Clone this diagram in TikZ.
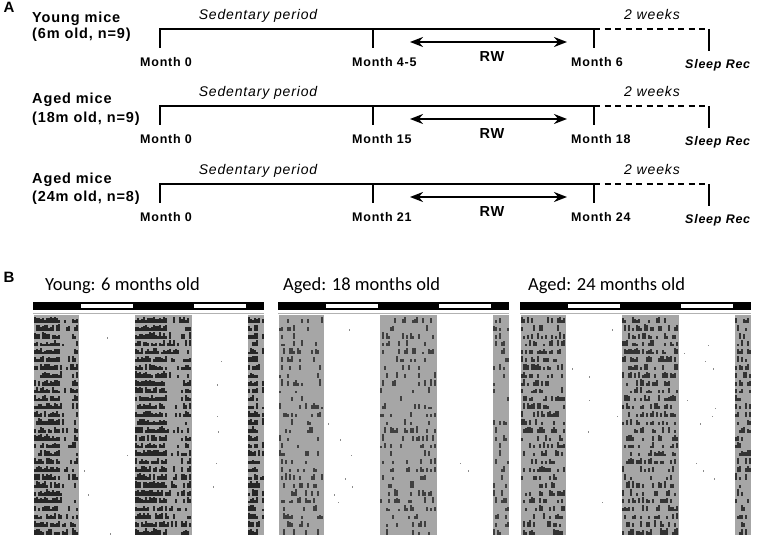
\documentclass[tikz,border=0pt]{standalone}
\usepackage{fontspec}
\setmainfont{Liberation Sans}
\newfontfamily\labfont[LetterSpace=6]{Liberation Sans}
\newfontfamily\ttlfont{Carlito}
\usetikzlibrary{arrows.meta}
\definecolor{actgray}{RGB}{166,166,166}

% light/dark bar, dark phases and activity marks of one actogram
\newcommand{\actogram}[2]{%
  \fill (0,302) rectangle (231,310);
  \fill[white] (48,304.3) rectangle (100,307.7);
  \fill[white] (161,304.3) rectangle (213,307.7);
  \draw[black!30, line width=0.6pt] (0,313) -- (231,313);
  \foreach \a/\b in {1/46,102/159,215/231}
    \fill[actgray] (\a,315) rectangle (\b,535);
  \foreach \row in {0,...,27} {
    \pgfmathsetmacro{\yb}{322.8+7.85*\row}
    \foreach \a/\b in {1/46,102/159,215/231} {
      \pgfmathtruncatemacro{\nx}{(\b-\a)/2-1}
      \foreach \k in {0,...,\nx} {
        \pgfmathsetmacro{\xx}{\a+2*\k}
        \pgfmathtruncatemacro{\hit}{rnd<dens((\xx-\a)/(\b-\a))}
        \ifnum\hit=1
          \pgfmathsetmacro{\hh}{2.5+4*rnd}
          \fill[#1] (\xx,\yb) rectangle ++(2,-\hh);
        \fi
      }
    }
    \foreach \a/\b in {46/102,159/215} {
      \pgfmathtruncatemacro{\hit}{rnd<#2}
      \ifnum\hit=1
        \pgfmathsetmacro{\xx}{\a+4+(\b-\a-8)*rnd}
        \fill[black!45] (\xx,\yb) rectangle ++(0.8,-1.5);
      \fi
    }
  }
}

\begin{document}
\begin{tikzpicture}[x=1pt, y=-1pt, >={Stealth[length=13pt,width=10pt]},
    tl/.style={line width=2pt},
    grp/.style={font=\labfont\fontsize{14.5}{16}\selectfont\bfseries, anchor=base west, inner sep=0pt},
    lab/.style={font=\labfont\fontsize{12.5}{14}\selectfont\bfseries, anchor=base west, inner sep=0pt},
    ital/.style={font=\labfont\fontsize{14}{16}\selectfont\itshape, anchor=base, inner sep=0pt},
    ttl/.style={font=\ttlfont\fontsize{18.5}{20}\selectfont, anchor=base west, inner sep=0pt},
    panel/.style={font=\fontsize{15}{16}\selectfont\bfseries, anchor=base, inner sep=0pt}]

  \useasboundingbox (0,0) rectangle (757,537);

  % Part A: time lines
  \node[panel] (pa) at (9,13) {A};
  \foreach \L/\who/\age/\ty/\sy/\mid/\fin [count=\r] in
     {29/Young mice/{(6m old, n=9)}/23/39/4-5/6,
      106/Aged mice/{(18m old, n=9)}/104/123/15/18,
      184/Aged mice/{(24m old, n=8)}/184/202/21/24} {
    \node[grp] (who\r) at (32,\ty) {\who};
    \node[grp] (age\r) at (32,\sy) {\age};
    \draw[tl] (160,\L+19) |- (594,\L) -- (594,\L+19);
    \draw[tl] (373,\L) -- (373,\L+19);
    \draw[tl, dash pattern=on 6pt off 4.5pt] (594,\L) -- (709,\L);
    \draw[tl] (709,\L) -- (709,\L+22);
    \draw[tl, <->] (410,\L+13) -- (567,\L+13);
    \node[ital] (sed\r) at (258,\L-9) {Sedentary period};
    \node[ital] (wk\r) at (652,\L-9) {2 weeks};
    \node[lab] (mo\r) at (140,\L+38) {Month 0};
    \node[lab] (mid\r) at (352,\L+38) {Month \mid};
    \node[lab] (fin\r) at (571,\L+38) {Month \fin};
    \node[lab, anchor=base] (rw\r) at (492,\L+33) {\fontsize{14.5}{16}\selectfont RW};
    \node[lab] (rec\r) at (685,\L+40) {\itshape Sleep Rec};
  }

  % Part B: actograms
  \node[panel] (pb) at (9,283) {B};
  \pgfmathsetseed{11}
  \begin{scope}[xshift=33pt,
      declare function={dens(\f)=ifthenelse(\f<0.55,0.88,ifthenelse(\f<0.8,0.2,0.6));}]
    \node[ttl] (ttl1) at (12,290) {Young: 6 months old};
    \actogram{black!85}{0.3}
  \end{scope}
  \begin{scope}[xshift=278pt, declare function={dens(\f)=0.22;}]
    \node[ttl] (ttl2) at (5,290) {Aged: 18 months old};
    \actogram{black!75}{0.15}
  \end{scope}
  \begin{scope}[xshift=520pt, declare function={dens(\f)=0.42;}]
    \node[ttl] (ttl3) at (8,290) {Aged: 24 months old};
    \actogram{black!80}{0.35}
  \end{scope}
\end{tikzpicture}
\end{document}
